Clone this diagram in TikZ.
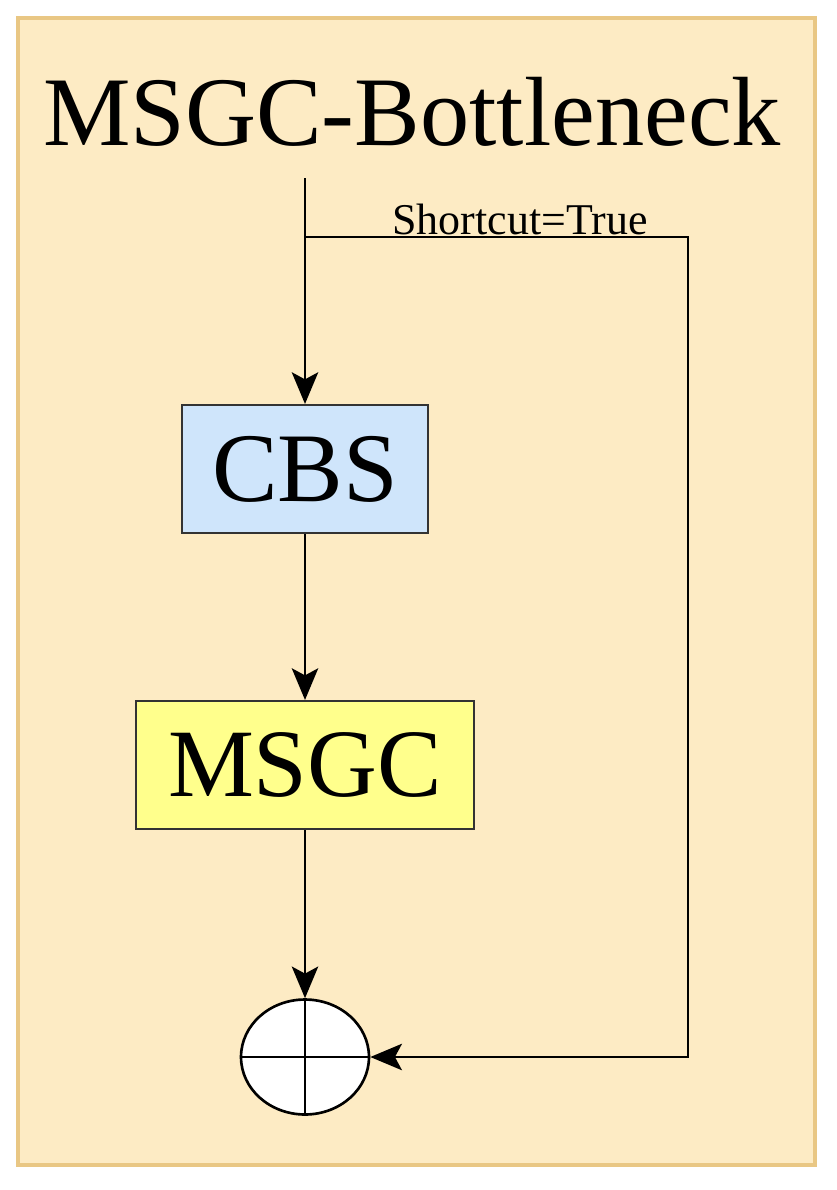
\documentclass[tikz,border=0pt]{standalone}
\usepackage{fontspec}
\setmainfont{Liberation Serif}
\usetikzlibrary{shapes.geometric,arrows.meta}
\definecolor{bg}{HTML}{FDEBC4}
\definecolor{bgline}{HTML}{E9C784}
\definecolor{cbs}{HTML}{CFE5FB}
\definecolor{msgc}{HTML}{FFFF8C}
\begin{document}
\begin{tikzpicture}[x=0.02cm,y=-0.02cm,
  box/.style={draw=black!80,line width=1.2pt,minimum height=2.56cm,inner sep=0pt},
  arr/.style={-{Stealth[length=18pt,width=15pt,inset=4pt]},line width=1.5pt}]
\useasboundingbox (0,0) rectangle (837,1190);
\fill[white] (0,0) rectangle (837,1190);
\draw[fill=bg,draw=bgline,line width=2pt] (18,18) rectangle (815,1165);
\node (title) at (412,112) {\fontsize{56}{60}\selectfont MSGC-Bottleneck};
\coordinate (top) at (305,178);
\coordinate (split) at (305,237);
\coordinate (tr) at (688,237);
\node[box,fill=cbs,minimum width=4.92cm] (cbs) at (305,469) {\fontsize{56}{60}\selectfont CBS};
\node[box,fill=msgc,minimum width=6.76cm] (msgc) at (305,765) {\fontsize{55}{60}\selectfont MSGC};
\node[draw=black,line width=1.5pt,fill=white,ellipse,minimum width=2.56cm,minimum height=2.3cm,inner sep=0pt] (add) at (305,1057) {};
\draw[line width=1.2pt] (add.north) -- (add.south) (add.west) -- (add.east);
\coordinate (br) at (688,1057);
\draw[arr] (top) -- (cbs.north);
\draw[arr] (cbs.south) -- (msgc.north);
\draw[arr] (msgc.south) -- (add.north);
\draw[arr] (split) -- (tr) -- (br) -- (add.east);
\node[anchor=south,inner sep=1pt] (lbl) at (520,237) {\fontsize{25}{28}\selectfont Shortcut=True};
\end{tikzpicture}
\end{document}
